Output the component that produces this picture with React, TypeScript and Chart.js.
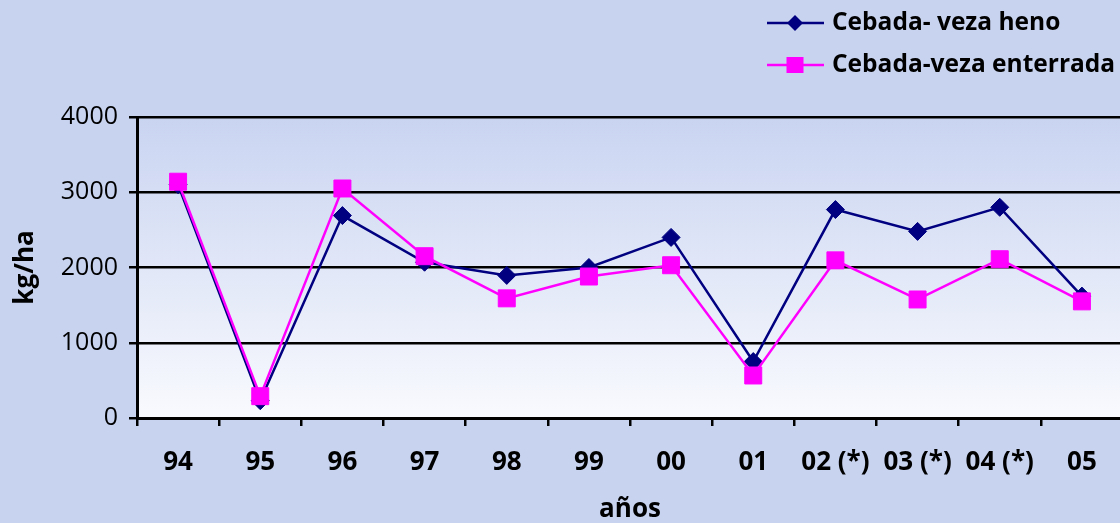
import React, { useEffect, useRef } from "react";
import { Chart, registerables } from "chart.js";

Chart.register(...registerables);

const years = ["94", "95", "96", "97", "98", "99", "00", "01", "02 (*)", "03 (*)", "04 (*)", "05"];
const henoValues = [3100, 230, 2690, 2070, 1895, 2000, 2400, 750, 2770, 2480, 2800, 1620];
const enterradaValues = [3140, 290, 3050, 2150, 1590, 1880, 2030, 565, 2095, 1575, 2110, 1550];
const seriesNames = ["Cebada- veza heno", "Cebada-veza enterrada"];
const seriesColors = ["#000080", "#ff00ff"];
const yMin = 0;
const yMax = 4000;
const yStep = 1000;
const xTitle = "años";
const yTitle = "kg/ha";

const FONT = "'Open Sans', 'Noto Sans', sans-serif";
const BG = "#c8d3f0";

const backgroundPlugin = {
  id: "bgPlugin",
  beforeDraw(chart: any) {
    const { ctx, width, height, chartArea } = chart;
    ctx.save();
    ctx.fillStyle = BG;
    ctx.fillRect(0, 0, width, height);
    const g = ctx.createLinearGradient(0, chartArea.top, 0, chartArea.bottom);
    g.addColorStop(0, "#c9d4f1");
    g.addColorStop(1, "#f9fafe");
    ctx.fillStyle = g;
    ctx.fillRect(chartArea.left, chartArea.top, chartArea.right - chartArea.left, chartArea.bottom - chartArea.top);
    ctx.restore();
  },
};

const legendPlugin = {
  id: "customLegend",
  afterDraw(chart: any) {
    const { ctx } = chart;
    const rows = [23, 65];
    const lineX0 = 767;
    const lineX1 = 824;
    const mx = 795;
    const textX = 832;
    ctx.save();
    seriesNames.forEach((name, i) => {
      const y = rows[i];
      ctx.strokeStyle = seriesColors[i];
      ctx.lineWidth = 2.5;
      ctx.beginPath();
      ctx.moveTo(lineX0, y);
      ctx.lineTo(lineX1, y);
      ctx.stroke();
      ctx.fillStyle = seriesColors[i];
      if (i === 0) {
        ctx.beginPath();
        ctx.moveTo(mx, y - 8);
        ctx.lineTo(mx + 8, y);
        ctx.lineTo(mx, y + 8);
        ctx.lineTo(mx - 8, y);
        ctx.closePath();
        ctx.fill();
      } else {
        ctx.fillRect(mx - 8.5, y - 8, 17, 16);
      }
      ctx.fillStyle = "#000";
      ctx.font = `bold 24.5px ${FONT}`;
      ctx.textBaseline = "middle";
      ctx.textAlign = "left";
      ctx.fillText(name, textX, y);
    });
    ctx.restore();
  },
};

export default function App() {
  const canvasRef = useRef<HTMLCanvasElement | null>(null);

  useEffect(() => {
    if (!canvasRef.current) return;
    const chart = new Chart(canvasRef.current, {
      type: "line",
      data: {
        labels: years,
        datasets: [
          {
            label: seriesNames[0],
            data: henoValues,
            borderColor: seriesColors[0],
            backgroundColor: seriesColors[0],
            borderWidth: 2.5,
            pointStyle: "rectRot",
            pointRadius: 9,
            pointBorderWidth: 1,
            pointBorderColor: seriesColors[0],
            pointBackgroundColor: seriesColors[0],
            tension: 0,
            order: 2,
          },
          {
            label: seriesNames[1],
            data: enterradaValues,
            borderColor: seriesColors[1],
            backgroundColor: seriesColors[1],
            borderWidth: 2.5,
            pointStyle: "rect",
            pointRadius: 12,
            pointBorderWidth: 1,
            pointBorderColor: seriesColors[1],
            pointBackgroundColor: seriesColors[1],
            tension: 0,
            order: 1,
          },
        ],
      },
      options: {
        animation: false,
        responsive: true,
        maintainAspectRatio: false,
        devicePixelRatio: 1,
        layout: { autoPadding: false, padding: { top: 117, right: 0, bottom: 0, left: 0 } },
        plugins: {
          legend: { display: false },
          tooltip: { enabled: false },
          title: { display: false },
        },
        scales: {
          x: {
            type: "category",
            offset: true,
            grid: {
              offset: true,
              drawOnChartArea: false,
              drawTicks: true,
              tickLength: 8,
              color: "#000",
              lineWidth: 2.5,
            },
            border: { display: true, color: "#000", width: 3 },
            ticks: {
              color: "#000",
              font: { family: FONT, size: 26, weight: "bold" },
              padding: 21,
              maxRotation: 0,
              autoSkip: false,
            },
            title: {
              display: true,
              text: xTitle,
              color: "#000",
              font: { family: FONT, size: 26, weight: "bold", lineHeight: 1 },
              padding: 0,
            },
            afterFit(scale: any) {
              scale.height = 105;
              scale.paddingLeft = 0;
              scale.paddingRight = 0;
            },
          },
          y: {
            min: yMin,
            max: yMax,
            ticks: {
              stepSize: yStep,
              color: "#000",
              font: { family: FONT, size: 25 },
              padding: 11,
              callback: (v: any) => String(v),
            },
            grid: {
              color: "#000",
              lineWidth: 2.5,
              tickLength: 8,
              drawTicks: true,
            },
            border: { display: true, color: "#000", width: 3 },
            title: {
              display: true,
              text: yTitle,
              color: "#000",
              font: { family: FONT, size: 26, weight: "bold" },
              padding: { top: 10, bottom: 0 },
            },
            afterFit(scale: any) {
              scale.width = 137;
            },
          },
        },
      },
      plugins: [backgroundPlugin, legendPlugin],
    });
    return () => chart.destroy();
  }, []);

  return (
    <div style={{ position: "absolute", left: 0, top: 0, width: 1120, height: 523, overflow: "hidden" }}>
      <div style={{ position: "relative", width: 1123, height: 523 }}>
        <canvas ref={canvasRef} />
      </div>
    </div>
  );
}
